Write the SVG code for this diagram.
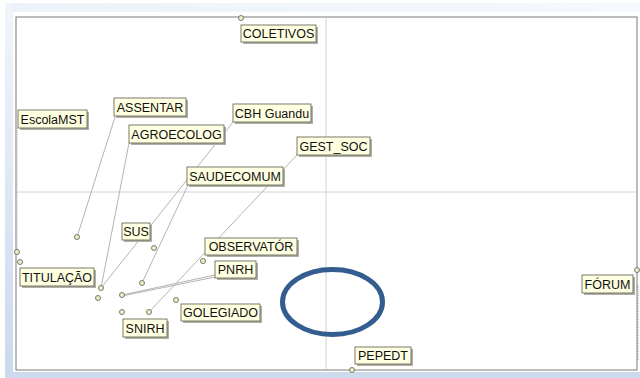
<svg xmlns="http://www.w3.org/2000/svg" width="640" height="378" viewBox="0 0 640 378">
<defs>
<linearGradient id="leftband" x1="0" y1="0" x2="0" y2="1">
<stop offset="0" stop-color="#F1F5FB"/>
<stop offset="1" stop-color="#C9D9EE"/>
</linearGradient>
<linearGradient id="topband" x1="0" y1="0" x2="1" y2="0">
<stop offset="0" stop-color="#EDF2FA"/>
<stop offset="1" stop-color="#F5F8FC"/>
</linearGradient>
</defs>
<style>
.box{fill:#FFFFE1;stroke:#5A5A4A;stroke-width:0.8}
.sh{fill:#B0B0A8}
.lbl{font-family:"Liberation Sans",Arial,sans-serif;font-size:12.5px;fill:#111111;text-anchor:middle}
.pt{fill:#EEEEC8;stroke:#7A7A6A;stroke-width:1}
.con{stroke:#B4B4B4;stroke-width:1;fill:none}
.axis{stroke:#D2D2D2;stroke-width:1}
</style>
<rect x="0" y="0" width="640" height="378" fill="#FFFFFF"/>
<rect x="5" y="3" width="635" height="9" fill="url(#topband)"/>
<rect x="5" y="3" width="8" height="375" fill="url(#leftband)"/>
<rect x="5" y="372" width="635" height="6" fill="#CCDAEE"/>
<rect x="16" y="17" width="621" height="353" fill="#FFFFFF" stroke="#7A7A7A" stroke-width="1"/>
<line class="axis" x1="326" y1="18" x2="326" y2="369"/>
<line class="axis" x1="17" y1="192" x2="636" y2="192"/>
<line x1="638" y1="285" x2="638" y2="360" stroke="#9A9A9A" stroke-width="1" stroke-dasharray="1 1"/>
<g id="connectors">
<line class="con" x1="17" y1="128" x2="17" y2="252" stroke-dasharray="1 1"/>
<line class="con" x1="115" y1="117" x2="77" y2="237"/>
<line class="con" x1="129" y1="143" x2="101" y2="288"/>
<line class="con" x1="233" y1="122" x2="101" y2="288"/>
<line class="con" x1="188" y1="185" x2="142" y2="283"/>
<line class="con" x1="297" y1="155" x2="149" y2="312"/>
<line class="con" x1="215" y1="275" x2="122" y2="295"/>
<line class="con" x1="215" y1="277" x2="122" y2="296"/>
</g>
<g id="points">
<circle class="pt" cx="77" cy="237" r="2.5"/>
<circle class="pt" cx="98" cy="298" r="2.5"/>
</g>
<g id="COLETIVOS"><circle class="pt" cx="241" cy="18" r="2.5"/><rect class="sh" x="243" y="27" width="75" height="17"/><rect class="box" x="241" y="25" width="75" height="17"/><text class="lbl" x="278.5" y="38">COLETIVOS</text></g>
<g id="EscolaMST"><rect class="sh" x="20" y="112" width="69" height="18"/><rect class="box" x="18" y="110" width="69" height="18"/><text class="lbl" x="52.5" y="123.5">EscolaMST</text></g>
<g id="ASSENTAR"><rect class="sh" x="116" y="100" width="72" height="18"/><rect class="box" x="114" y="98" width="72" height="18"/><text class="lbl" x="150" y="111.5">ASSENTAR</text></g>
<g id="AGROECOLOG"><rect class="sh" x="131" y="127" width="95" height="18"/><rect class="box" x="129" y="125" width="95" height="18"/><text class="lbl" x="176.5" y="138.5">AGROECOLOG</text><circle class="pt" cx="101" cy="288" r="2.5"/></g>
<g id="CBH_Guandu"><rect class="sh" x="235" y="106" width="78" height="18"/><rect class="box" x="233" y="104" width="78" height="18"/><text class="lbl" x="272" y="117.5">CBH Guandu</text></g>
<g id="GEST_SOC"><rect class="sh" x="299" y="139" width="73" height="18"/><rect class="box" x="297" y="137" width="73" height="18"/><text class="lbl" x="333.5" y="150.5">GEST_SOC</text><circle class="pt" cx="149" cy="312" r="2.5"/></g>
<g id="SAUDECOMUM"><rect class="sh" x="189" y="169" width="96" height="18"/><rect class="box" x="187" y="167" width="96" height="18"/><text class="lbl" x="235" y="180.5">SAUDECOMUM</text><circle class="pt" cx="142" cy="283" r="2.5"/></g>
<g id="SUS"><circle class="pt" cx="154" cy="248" r="2.5"/><rect class="sh" x="124" y="225" width="28" height="17"/><rect class="box" x="122" y="223" width="28" height="17"/><text class="lbl" x="136" y="236">SUS</text></g>
<g id="OBSERVATOR"><circle class="pt" cx="203" cy="261" r="2.5"/><rect class="sh" x="207" y="240" width="92" height="17"/><rect class="box" x="205" y="238" width="92" height="17"/><text class="lbl" x="251" y="251">OBSERVATÓR</text></g>
<g id="PNRH"><circle class="pt" cx="122" cy="295" r="2.5"/><rect class="sh" x="217" y="263" width="41" height="17"/><rect class="box" x="215" y="261" width="41" height="17"/><text class="lbl" x="235.5" y="274">PNRH</text></g>
<g id="TITULACAO"><circle class="pt" cx="17" cy="252" r="2.5"/><circle class="pt" cx="20" cy="262" r="2.5"/><rect class="sh" x="22" y="270" width="74" height="18"/><rect class="box" x="20" y="268" width="74" height="18"/><text class="lbl" x="57" y="281.5">TITULAÇÃO</text></g>
<g id="GOLEGIADO"><circle class="pt" cx="176" cy="300" r="2.5"/><rect class="sh" x="183" y="306" width="79" height="17"/><rect class="box" x="181" y="304" width="79" height="17"/><text class="lbl" x="220.5" y="317">GOLEGIADO</text></g>
<g id="SNIRH"><circle class="pt" cx="122" cy="312" r="2.5"/><rect class="sh" x="125" y="321" width="44" height="18"/><rect class="box" x="123" y="319" width="44" height="18"/><text class="lbl" x="145" y="332.5">SNIRH</text></g>
<g id="FORUM"><circle class="pt" cx="637" cy="270" r="2.5"/><rect class="sh" x="584" y="277" width="51" height="18"/><rect class="box" x="582" y="275" width="51" height="18"/><text class="lbl" x="607.5" y="288.5">FÓRUM</text></g>
<g id="PEPEDT"><rect class="sh" x="357" y="349" width="56" height="17"/><rect class="box" x="355" y="347" width="56" height="17"/><text class="lbl" x="383" y="360">PEPEDT</text><circle class="pt" cx="352" cy="370" r="2.5"/></g>
<ellipse id="highlight" cx="332.5" cy="302" rx="50" ry="32.5" fill="none" stroke="#335C8F" stroke-width="5"/>
</svg>
